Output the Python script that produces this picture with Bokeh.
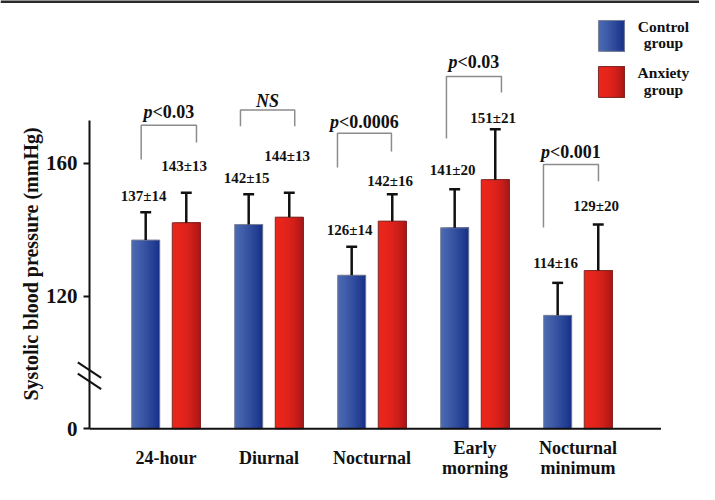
import numpy as np
from bokeh.plotting import figure
from bokeh.models import Range1d, FixedTicker, Arrow
from bokeh.core.properties import value
from bokeh.embed import file_html
from bokeh.resources import INLINE

# ---------------- data ----------------
categories = ["24-hour", "Diurnal", "Nocturnal", "Early\nmorning", "Nocturnal\nminimum"]
control_mean = [136.9, 141.6, 126.3, 140.6, 114.2]
control_err = [8.4, 9.1, 8.6, 11.6, 9.8]
anxiety_mean = [142.1, 143.8, 142.6, 155.1, 127.7]
anxiety_err = [9.1, 7.4, 8.1, 15.2, 13.9]
control_labels = ["137±14", "142±15", "126±14", "141±20", "114±16"]
anxiety_labels = ["143±13", "144±13", "142±16", "151±21", "129±20"]
p_texts = ["<0.03", "NS", "<0.0006", "<0.03", "<0.001"]
y_tick_values = [0, 120, 160]
legend_names = [["Control", "group"], ["Anxiety", "group"]]
y_axis_title = "Systolic blood pressure (mmHg)"

# ---------------- annotation layout (value units) ----------------
control_label_y = [150.1, 155.5, 139.8, 157.9, 129.9]
anxiety_label_y = [159.1, 162.1, 154.6, 173.6, 147.3]
bracket_left = [-0.241, -0.277, -0.335, -0.277, -0.335]
bracket_right = [0.296, 0.250, 0.189, 0.257, 0.199]
bracket_top = [171.5, 176.1, 169.1, 186.2, 159.7]
bracket_left_bottom = [161.2, 171.2, 158.8, 167.5, 140.7]
bracket_right_bottom = [166.3, 171.2, 163.6, 181.4, 154.6]
p_text_y = [175.4, 178.8, 172.4, 190.5, 163.3]

BREAK = 80.0          # values below this are cut out of the axis
AXIS_TOP = 173.0
BAR_W = 0.272
OFFSET = 0.197
FONT = "Liberation Serif"
AX_X = -0.7427                 # where the y axis stands
X0, X1 = -1.6068, 5.180
Y0, Y1 = -16.79, 129.12

def u(v):
    return np.asarray(v, dtype=float) - BREAK

BLUE = ((76, 106, 178), (22, 48, 136))
RED = ((234, 38, 28), (168, 22, 22))

def lerp(c0, c1, t):
    return "#%02x%02x%02x" % tuple(int(round(a + (b - a) * t)) for a, b in zip(c0, c1))

p = figure(width=699, height=484,
           x_range=Range1d(X0, X1), y_range=Range1d(Y0, Y1),
           output_backend="svg", toolbar_location=None, x_axis_location=None,
           min_border_left=0, min_border_right=0, min_border_top=0, min_border_bottom=0)
p.outline_line_color = None
p.grid.visible = False
p.background_fill_color = "white"
p.border_fill_color = "white"

x = np.arange(len(categories), dtype=float)

def gradient_bars(xc, bottom, top, width, cols, curve, n=16):
    # successive narrower bars, each anchored at the right edge -> no seams
    xs, ws, bs, ts, cs = [], [], [], [], []
    for k in range(n):
        t = (k + 0.5) / n
        col = lerp(cols[0], cols[1], t ** curve)
        for xi, b, tp in zip(xc, bottom, top):
            left = xi - width / 2 + k * width / n
            right = xi + width / 2
            xs.append((left + right) / 2)
            ws.append(right - left)
            bs.append(b)
            ts.append(tp)
            cs.append(col)
    p.vbar(x=xs, bottom=bs, top=ts, width=ws, fill_color=cs, line_color=None)

# bars
xc_c = x - OFFSET
xc_a = x + OFFSET
gradient_bars(xc_c, np.zeros(5), u(control_mean), BAR_W, BLUE, 1.2)
gradient_bars(xc_a, np.zeros(5), u(anxiety_mean), BAR_W, RED, 2.2)
p.vbar(x=xc_c, bottom=0, top=u(control_mean), width=BAR_W, fill_color=None, line_color="#7d8296", line_width=1)
p.vbar(x=xc_a, bottom=0, top=u(anxiety_mean), width=BAR_W, fill_color=None, line_color="#7a2a2a", line_width=1)

# error bars
for xc, m, e in ((xc_c, control_mean, control_err), (xc_a, anxiety_mean, anxiety_err)):
    top = u(np.array(m) + np.array(e))
    p.segment(x0=xc, y0=u(m), x1=xc, y1=top, line_color="#111111", line_width=2.5)
    p.segment(x0=xc - 0.053, y0=top, x1=xc + 0.053, y1=top, line_color="#111111", line_width=2.5)

# value labels
for xc, ly, lt in ((xc_c, control_label_y, control_labels), (xc_a, anxiety_label_y, anxiety_labels)):
    p.text(x=xc - 0.02, y=u(ly), text=lt, text_font=value(FONT),
           text_font_style="bold", text_font_size="15px", text_align="center",
           text_baseline="middle", text_color="#111111")

# brackets
bxs, bys = [], []
for i in range(len(categories)):
    l = x[i] + bracket_left[i]
    r = x[i] + bracket_right[i]
    bxs.append([l, l, r, r])
    bys.append(list(u([bracket_left_bottom[i], bracket_top[i], bracket_top[i], bracket_right_bottom[i]])))
p.multi_line(xs=bxs, ys=bys, line_color="#8c8c8c", line_width=1.5)

# p-value texts (italic p + bold rest)
CW = {"0": .5, "1": .5, "3": .5, "6": .5, ".": .25, "<": .57}
PX_PER_UNIT_X = 103.0
for i, t in enumerate(p_texts):
    cx = x[i] + (bracket_left[i] + bracket_right[i]) / 2
    if t == "NS":
        p.text(x=[cx], y=u([p_text_y[i]]), text=[t], text_font=value(FONT),
               text_font_style="bold italic", text_font_size="18px",
               text_align="center", text_baseline="middle", text_color="#111111")
        continue
    w_rest = sum(CW.get(c, .5) for c in t) * 18
    w_p = 0.5 * 18
    split = cx + (-(w_rest + w_p) / 2 + w_p) / PX_PER_UNIT_X
    p.text(x=[split], y=u([p_text_y[i]]), text=["p"], text_font=value(FONT),
           text_font_style="bold italic", text_font_size="18px",
           text_align="right", text_baseline="middle", text_color="#111111")
    p.text(x=[split], y=u([p_text_y[i]]), text=[t], text_font=value(FONT),
           text_font_style="bold", text_font_size="18px",
           text_align="left", text_baseline="middle", text_color="#111111")

# x baseline
p.segment(x0=[AX_X], y0=[0], x1=[4.806], y1=[0], line_color="#111111", line_width=2)

# category labels
cat_x, cat_y, cat_t = [], [], []
LINE_GAP = 6.03
for i, c in enumerate(categories):
    lines = c.split("\n")
    n = len(lines)
    for k, ln in enumerate(lines):
        cat_x.append(x[i])
        cat_y.append(-8.9 + ((n - 1) / 2 - k) * LINE_GAP)
        cat_t.append(ln)
p.text(x=cat_x, y=cat_y, text=cat_t, text_font=value(FONT), text_font_style="bold",
       text_font_size="18px", text_align="center", text_baseline="middle", text_color="#111111")

# legend
LEG_X = 4.325
LEG_W = 0.252
leg_boxes = [(193.8, 203.1), (179.9, 189.2)]
for (b, t), cols, curve, oc in zip(leg_boxes, (BLUE, RED), (1.2, 2.2), ("#7d8296", "#7a2a2a")):
    gradient_bars([LEG_X], u([b]), u([t]), LEG_W, cols, curve)
    p.vbar(x=[LEG_X], bottom=u([b]), top=u([t]), width=LEG_W, fill_color=None, line_color=oc, line_width=1)
leg_text_y = [[201.3, 196.5], [187.4, 182.3]]
lx, ly, lt = [], [], []
for names, ys in zip(legend_names, leg_text_y):
    for nm, yy in zip(names, ys):
        lx.append(4.83)
        ly.append(yy - BREAK)
        lt.append(nm)
p.text(x=lx, y=ly, text=lt, text_font=value(FONT), text_font_style="bold",
       text_font_size="15.5px", text_align="center", text_baseline="middle", text_color="#111111")

# y axis, drawn at a fixed place inside the frame
tick_pos = [0.0 if t < BREAK else t - BREAK for t in y_tick_values]
p.yaxis.fixed_location = AX_X
p.yaxis.ticker = FixedTicker(ticks=tick_pos)
p.yaxis.major_label_overrides = {tp: str(t) for tp, t in zip(tick_pos, y_tick_values)}
p.yaxis.bounds = (0, AXIS_TOP - BREAK)
p.yaxis.axis_line_width = 2
p.yaxis.axis_line_color = "#111111"
p.yaxis.major_tick_line_width = 2
p.yaxis.major_tick_line_color = "#111111"
p.yaxis.major_tick_out = 6
p.yaxis.major_tick_in = 0
p.yaxis.minor_tick_line_color = None
p.yaxis.major_label_text_font = FONT
p.yaxis.major_label_text_font_style = "bold"
p.yaxis.major_label_text_font_size = "21px"
p.yaxis.major_label_text_color = "#111111"
p.yaxis.major_label_standoff = 6

# y axis title
p.text(x=[-1.3155], y=[49.7], text=[y_axis_title], angle=np.pi / 2,
       text_font=value(FONT), text_font_style="bold", text_font_size="20px",
       text_color="#111111", text_align="center", text_baseline="middle")

# axis break marks
for yc in (17.7, 14.3):
    p.add_layout(Arrow(end=None, x_start=AX_X - 0.1136, y_start=yc + 2.35,
                       x_end=AX_X + 0.1136, y_end=yc - 2.35,
                       line_color="#111111", line_width=2))

# dark rule along the top edge
p.add_layout(Arrow(end=None, x_start=X0, y_start=Y1 - 0.3, x_end=X1, y_end=Y1 - 0.3,
                   line_color="#2a2a2a", line_width=3))

open("out.html", "w").write(file_html(p, INLINE))
